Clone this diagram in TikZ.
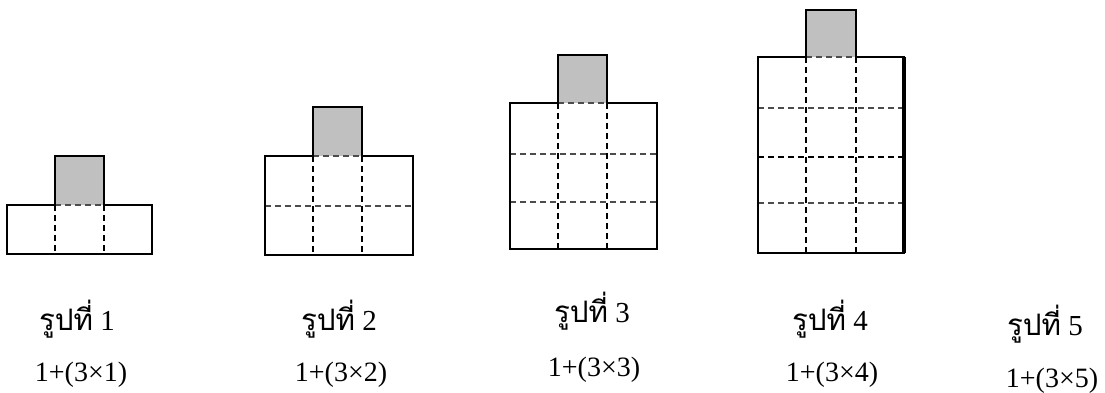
\documentclass[tikz,border=0pt]{standalone}
\usepackage{fontspec}
\setmainfont{Liberation Serif}
\newfontfamily\thaifont[Script=Thai,Scale=1.02]{Loma}
\definecolor{cellgray}{RGB}{192,192,192}
\begin{document}
\begin{tikzpicture}[x=1pt,y=-1pt,
  outline/.style={line width=2pt, black, line join=miter},
  topcell/.style={fill=cellgray},
  gridv/.style={line width=1.1pt, black, dash pattern=on 6pt off 4pt},
  gridh/.style={line width=1.1pt, black!70, dash pattern=on 6pt off 4pt},
  lbl/.style={anchor=base, inner sep=0pt, font=\fontsize{29}{32}\selectfont},
  frm/.style={anchor=base, inner sep=0pt, font=\fontsize{28}{32}\selectfont}]
\useasboundingbox (0,0) rectangle (1105,392);
% ---------- figure 1
\fill[topcell] (55,156) rectangle (104,205);
\draw[gridv] (55,205) -- (55,254) (104,205) -- (104,254);
\draw[gridh] (55,205) -- (104,205);
\draw[outline] (7,205) -- (55,205) -- (55,156) -- (104,156) -- (104,205) -- (152,205) -- (152,254) -- (7,254) -- cycle;
% ---------- figure 2
\fill[topcell] (313,107) rectangle (362,156);
\draw[gridv] (313,156) -- (313,255) (362,156) -- (362,255);
\draw[gridh] (313,156) -- (362,156) (265,206) -- (413,206);
\draw[outline] (265,156) -- (313,156) -- (313,107) -- (362,107) -- (362,156) -- (413,156) -- (413,255) -- (265,255) -- cycle;
% ---------- figure 3
\fill[topcell] (558,55) rectangle (607,103);
\draw[gridv] (558,103) -- (558,249) (607,103) -- (607,249);
\draw[gridh] (558,103) -- (607,103) (510,154) -- (657,154) (510,202) -- (657,202);
\draw[outline] (510,103) -- (558,103) -- (558,55) -- (607,55) -- (607,103) -- (657,103) -- (657,249) -- (510,249) -- cycle;
% ---------- figure 4
\fill[topcell] (806,10) rectangle (856,57);
\draw[gridv] (806,57) -- (806,253) (856,57) -- (856,253);
\draw[gridh] (806,57) -- (856,57) (758,108) -- (904,108) (758,203) -- (904,203);
\draw[gridv] (758,157) -- (904,157);
\draw[outline] (758,57) -- (806,57) -- (806,10) -- (856,10) -- (856,57) -- (904,57) -- (904,253) -- (758,253) -- cycle;
\draw[line width=3.2pt] (904,57) -- (904,253);
% ---------- labels
\node[lbl] (l1) at (77,330) {{\thaifont รูปที่} 1};
\node[frm] (f1) at (81,381) {1+(3×1)};
\node[lbl] (l2) at (339,330) {{\thaifont รูปที่} 2};
\node[frm] (f2) at (341,381) {1+(3×2)};
\node[lbl] (l3) at (592,322) {{\thaifont รูปที่} 3};
\node[frm] (f3) at (594,376) {1+(3×3)};
\node[lbl] (l4) at (830,330) {{\thaifont รูปที่} 4};
\node[frm] (f4) at (832,381) {1+(3×4)};
\node[lbl] (l5) at (1045,335) {{\thaifont รูปที่} 5};
\node[frm] (f5) at (1052,387) {1+(3×5)};
\end{tikzpicture}
\end{document}
